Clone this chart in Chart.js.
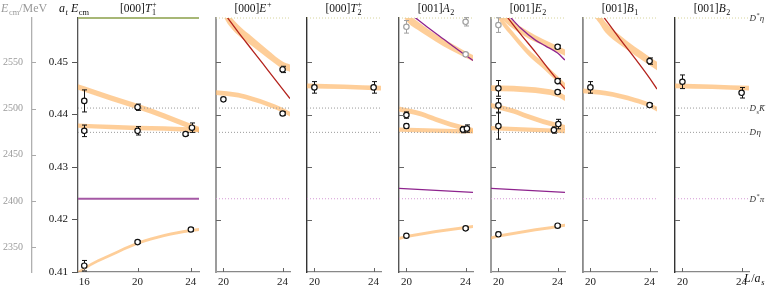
<!DOCTYPE html>
<html>
<head>
<meta charset="utf-8">
<script src="https://cdn.jsdelivr.net/npm/chart.js@4.4.1/dist/chart.umd.min.js"></script>
<style>
html, body { margin: 0; padding: 0; background: #fff; }
#wrap { position: relative; width: 772px; height: 287px; overflow: hidden; }
#wrap canvas { position: absolute; top: 0; }
</style>
</head>
<body>
<div id="wrap"></div>
<script>
// energy axis: a_t E_cm, outer axis in MeV (a_t^-1 = 5667 MeV)
const atInverseMeV = 5667;
const yMin = 0.41;
const yMax = 0.4584;
const yTicks = [0.41, 0.42, 0.43, 0.44, 0.45];
const mevTicks = [2350, 2400, 2450, 2500, 2550];
const xTicksRest = [16, 20, 24];
const xTicksMoving = [20, 24];

// thresholds
const thrDstarEta = 0.4584;
const thrDsKbar = 0.44124;
const thrDEta = 0.43661;
const thrDstarPi = 0.42396;

const SERIF = "'Liberation Serif', 'DejaVu Serif', serif";
const BAND = 'rgba(253,185,110,0.7)';
const RED = '#b3221c';
const PURPLE = '#8e238e';

/////////////////
// [000] T1+   //
/////////////////
const t1Pts = {
    L:   [16, 16, 20, 20, 23.6, 24.08, 16, 20, 24],
    E:   [0.4426, 0.4369, 0.4414, 0.4369, 0.4363, 0.4375, 0.4112, 0.4157, 0.4181],
    err: [0.0021, 0.0011, 0.0006, 0.0008, 0.0003, 0.0009, 0.0010, 0.0002, 0.0003],
    gray: []
};
const t1BandA = { L: [15.53, 16, 18, 20, 22, 24, 24.61], E: [0.44524, 0.44486, 0.44314, 0.44152, 0.43971, 0.43771, 0.43714], w: 0.00052 };
const t1BandB = { L: [15.53, 18, 20, 22, 24.61], E: [0.4379, 0.43762, 0.43743, 0.43733, 0.43705], w: 0.00042 };
const t1BandC = { L: [15.53, 16, 17, 18, 20, 22, 24, 24.61], E: [0.4099, 0.41067, 0.4121, 0.41324, 0.41547, 0.41695, 0.4179, 0.4181], w: 0.00028 };

/////////////////
// [000] E+    //
/////////////////
const ePts = { L: [20, 24, 24], E: [0.4429, 0.4486, 0.4402], err: [0.0003, 0.0006, 0.0003], gray: [] };
const eBandTop = { L: [20, 20.3, 21, 22, 23, 24, 24.5], E: [0.4599, 0.45838, 0.4561, 0.4538, 0.45152, 0.44943, 0.44886], w: [0.0012, 0.0011, 0.001, 0.0009, 0.0008, 0.0007, 0.0007] };
const eBandLow = { L: [19.5, 21, 22, 23, 24, 24.5], E: [0.44419, 0.44371, 0.44295, 0.442, 0.44086, 0.4401], w: 0.00045 };
const eRed = { L: [20.25, 21, 22, 23, 24, 24.5], E: [0.45857, 0.45571, 0.4521, 0.44848, 0.44486, 0.44305] };

/////////////////
// [000] T2+   //
/////////////////
const t2Pts = { L: [20, 24], E: [0.44518, 0.44518], err: [0.0011, 0.0011], gray: [] };
const t2Band = { L: [19.5, 22, 24.5], E: [0.44547, 0.4453, 0.44505], w: 0.00045 };

/////////////////
// [001] A2    //
/////////////////
const a2Pts = {
    L:   [20, 24, 24, 20, 20, 23.82, 24.09, 20, 24],
    E:   [0.45672, 0.45768, 0.45147, 0.4399, 0.43781, 0.43714, 0.43733, 0.41691, 0.41832],
    err: [0.0012, 0.0008, 0.0002, 0.0006, 0.0004, 0.0006, 0.0007, 0.0002, 0.0002],
    gray: [0, 1, 2]
};
const a2BandTop = { L: [19.8, 20.1, 21, 22, 23, 24, 24.5], E: [0.45952, 0.45838, 0.45648, 0.45457, 0.45295, 0.45143, 0.45076], w: [0.0009, 0.0009, 0.0008, 0.0007, 0.0007, 0.0006, 0.0006] };
const a2BandMid = { L: [19.5, 21, 22, 23, 24.5], E: [0.44105, 0.4401, 0.43905, 0.4381, 0.43695], w: 0.00048 };
const a2BandFlat = { L: [19.5, 22, 24.5], E: [0.43714, 0.43695, 0.4368], w: 0.0004 };
const a2BandLow = { L: [19.5, 20, 21, 22, 23, 24, 24.5], E: [0.41638, 0.41676, 0.41724, 0.41771, 0.4181, 0.41848, 0.41867], w: 0.00028 };
const a2Purple = { L: [20.55, 21.5, 22.5, 23.5, 24.5], E: [0.45857, 0.45648, 0.45438, 0.45229, 0.45029] };
const a2PurpleLow = { L: [19.5, 22, 24.5], E: [0.42594, 0.42556, 0.42518] };

/////////////////
// [001] E2    //
/////////////////
const e2Pts = {
    L:   [20, 24, 24, 24, 20, 20, 20, 24.05, 23.75, 20, 24],
    E:   [0.45705, 0.45291, 0.44638, 0.44429, 0.44499, 0.44175, 0.43781, 0.43819, 0.43705, 0.41718, 0.41882],
    err: [0.0014, 0.0003, 0.0005, 0.0003, 0.0015, 0.0013, 0.0025, 0.0009, 0.0006, 0.0004, 0.0002],
    gray: [0]
};
const e2BandA = { L: [20.1, 20.45, 21, 22, 23, 24, 24.5], E: [0.45952, 0.45838, 0.45705, 0.45524, 0.45381, 0.45248, 0.45181], w: [0.0008, 0.0008, 0.0007, 0.0007, 0.0006, 0.0006, 0.0006] };
const e2BandB = { L: [19.9, 20.1, 21, 22, 23, 24, 24.5], E: [0.45952, 0.45838, 0.45514, 0.4519, 0.44943, 0.44676, 0.44543], w: 0.0006 };
const e2BandFlatHi = { L: [19.5, 21, 22, 23, 24, 24.5], E: [0.44505, 0.44495, 0.44476, 0.44448, 0.4439, 0.44314], w: 0.00055 };
const e2BandMid = { L: [19.5, 21, 22, 23, 24.5], E: [0.44171, 0.44067, 0.43962, 0.43867, 0.43752], w: 0.00048 };
const e2BandFlatLo = { L: [19.5, 22, 24.5], E: [0.43743, 0.43714, 0.43686], w: 0.0004 };
const e2BandLow = { L: [19.5, 20, 21, 22, 23, 24, 24.5], E: [0.41648, 0.41686, 0.41733, 0.41781, 0.41823, 0.41867, 0.4189], w: 0.00028 };
const e2Purple = { L: [20.8, 21.5, 22.5, 23.2, 24, 24.5], E: [0.45857, 0.45648, 0.45419, 0.45305, 0.45171, 0.45038] };
const e2Red = { L: [20.6, 21.5, 22.5, 23.5, 24.5], E: [0.45857, 0.45533, 0.4519, 0.44829, 0.44486] };
const e2PurpleLow = { L: [19.5, 22, 24.5], E: [0.42594, 0.42556, 0.42518] };

/////////////////
// [001] B1    //
/////////////////
const b1Pts = { L: [20, 24, 24], E: [0.44518, 0.45019, 0.44181], err: [0.0011, 0.0006, 0.0003], gray: [] };
const b1BandTop = { L: [20.3, 20.6, 21, 22, 23, 24, 24.5], E: [0.45952, 0.45838, 0.45667, 0.45419, 0.4521, 0.45019, 0.44924], w: [0.001, 0.001, 0.001, 0.0009, 0.0008, 0.0008, 0.0008] };
const b1BandLow = { L: [19.5, 21, 22, 23, 24, 24.5], E: [0.44451, 0.4441, 0.44352, 0.44276, 0.44181, 0.44105], w: 0.00045 };
const b1Red = { L: [20.9, 22, 23, 24, 24.5], E: [0.45857, 0.45438, 0.45076, 0.44695, 0.44486] };

/////////////////
// [001] B2    //
/////////////////
const b2Pts = { L: [20, 24], E: [0.44625, 0.44415], err: [0.0013, 0.001], gray: [] };
const b2Band = { L: [19.5, 22, 24.5], E: [0.44547, 0.4453, 0.44505], w: 0.00045 };

const panels = [
    { left: 78, width: 121, xMin: 15.53, xMax: 24.61, xTicks: xTicksRest, first: true,
      title: [['[000]', 'r'], ['T', 'i'], ['1|+', 'bp']], axis: ['#555', 1.3],
      pts: t1Pts, bands: [t1BandA, t1BandB, t1BandC], curves: [] },
    { left: 216, width: 74, xMin: 19.5, xMax: 24.5, xTicks: xTicksMoving,
      title: [['[000]', 'r'], ['E', 'i'], ['+', 'p']], axis: ['#9c9c9c', 2],
      pts: ePts, bands: [eBandTop, eBandLow], curves: [{ d: eRed, c: RED, w: 1.3 }] },
    { left: 307, width: 74, xMin: 19.5, xMax: 24.5, xTicks: xTicksMoving,
      title: [['[000]', 'r'], ['T', 'i'], ['2|+', 'bp']], axis: ['#333', 1.4],
      pts: t2Pts, bands: [t2Band], curves: [] },
    { left: 399, width: 74, xMin: 19.5, xMax: 24.5, xTicks: xTicksMoving,
      title: [['[001]', 'r'], ['A', 'i'], ['2', 'b']], axis: ['#555', 1.4],
      pts: a2Pts, bands: [a2BandTop, a2BandMid, a2BandFlat, a2BandLow],
      curves: [{ d: a2Purple, c: PURPLE, w: 1.3 }, { d: a2PurpleLow, c: PURPLE, w: 1.3 }] },
    { left: 491, width: 74, xMin: 19.5, xMax: 24.5, xTicks: xTicksMoving,
      title: [['[001]', 'r'], ['E', 'i'], ['2', 'b']], axis: ['#9c9c9c', 2],
      pts: e2Pts, bands: [e2BandA, e2BandB, e2BandFlatHi, e2BandMid, e2BandFlatLo, e2BandLow],
      curves: [{ d: e2Purple, c: PURPLE, w: 1.3 }, { d: e2Red, c: RED, w: 1.3 }, { d: e2PurpleLow, c: PURPLE, w: 1.3 }] },
    { left: 583, width: 74, xMin: 19.5, xMax: 24.5, xTicks: xTicksMoving,
      title: [['[001]', 'r'], ['B', 'i'], ['1', 'b']], axis: ['#8a8a8a', 1.8],
      pts: b1Pts, bands: [b1BandTop, b1BandLow], curves: [{ d: b1Red, c: RED, w: 1.3 }] },
    { left: 675, width: 74, xMin: 19.5, xMax: 24.5, xTicks: xTicksMoving, last: true,
      title: [['[001]', 'r'], ['B', 'i'], ['2', 'b']], axis: ['#333', 1.4],
      pts: b2Pts, bands: [b2Band], curves: [] }
];

/////////////////////
// Helper function //
/////////////////////

// draw text made of roman / italic / sub / sup pieces
function richText(ctx, parts, x, y, size, color, align) {
    const small = size * 0.7;
    const font = (it, s) => (it ? 'italic ' : '') + s + 'px ' + SERIF;
    const items = [];
    let w = 0;
    parts.forEach(([t, st]) => {
        if (st === 'bp') {
            const [a, b] = t.split('|');
            ctx.font = font(false, small);
            const wa = ctx.measureText(a).width;
            const wb = ctx.measureText(b).width;
            items.push({ t: a, f: font(false, small), x: w, dy: size * 0.28 });
            items.push({ t: b, f: font(false, small), x: w, dy: -size * 0.42 });
            w += Math.max(wa, wb) + 0.5;
        } else {
            const isSmall = st === 'b' || st === 'bi' || st === 'p';
            const f = font(st === 'i' || st === 'bi', isSmall ? small : size);
            ctx.font = f;
            const dy = (st === 'b' || st === 'bi') ? size * 0.28 : (st === 'p' ? -size * 0.42 : 0);
            items.push({ t, f, x: w, dy });
            w += ctx.measureText(t).width + (st === 'i' ? 0.6 : 0);
        }
    });
    const x0 = align === 'center' ? x - w / 2 : (align === 'right' ? x - w : x);
    ctx.save();
    ctx.fillStyle = color;
    ctx.textAlign = 'left';
    ctx.textBaseline = 'alphabetic';
    items.forEach(it => {
        ctx.font = it.f;
        ctx.fillText(it.t, x0 + it.x, y + it.dy);
    });
    ctx.restore();
}

function thresholdsFor(p) {
    const dot = [1, 2];
    if (p.first) {
        return [
            { v: thrDsKbar, c: '#9a9a9a', w: 1, dash: dot },
            { v: thrDEta, c: '#9a9a9a', w: 1, dash: dot },
            { v: thrDstarEta, c: '#a7b776', w: 2.2, dash: [] },
            { v: thrDstarPi, c: '#a558a5', w: 2, dash: [] }
        ];
    }
    return [
        { v: thrDstarEta, c: '#d6d49c', w: 1, dash: dot },
        { v: thrDsKbar, c: '#9a9a9a', w: 1, dash: dot },
        { v: thrDEta, c: '#9a9a9a', w: 1, dash: dot },
        { v: thrDstarPi, c: '#d59ad5', w: 1, dash: dot }
    ];
}

function buildDatasets(p) {
    const sets = [];
    const pts = p.pts;

    // energy levels with error bars (bars drawn by plugin)
    sets.push({
        data: pts.L.map((L, k) => ({ x: L, y: pts.E[k] })),
        errors: pts.err,
        showLine: false,
        order: 1,
        pointRadius: 2.7,
        pointBorderWidth: 1.2,
        pointBackgroundColor: '#fff',
        pointBorderColor: pts.L.map((_, k) => pts.gray.includes(k) ? '#a0a0a0' : '#111')
    });

    // non-interacting curves
    p.curves.forEach(c => {
        sets.push({
            data: c.d.L.map((L, k) => ({ x: L, y: c.d.E[k] })),
            borderColor: c.c,
            borderWidth: c.w,
            pointRadius: 0,
            cubicInterpolationMode: 'monotone',
            fill: false,
            order: 2
        });
    });

    // thresholds
    thresholdsFor(p).forEach(t => {
        sets.push({
            data: [{ x: p.xMin, y: t.v }, { x: p.xMax, y: t.v }],
            borderColor: t.c,
            borderWidth: t.w,
            borderDash: t.dash,
            pointRadius: 0,
            fill: false,
            clip: 3,
            order: 3
        });
    });

    // spectrum bands, upper edge filled to lower edge
    p.bands.forEach(b => {
        const hw = k => Array.isArray(b.w) ? b.w[k] : b.w;
        sets.push({
            data: b.L.map((L, k) => ({ x: L, y: b.E[k] + hw(k) })),
            fill: '+1',
            backgroundColor: BAND,
            borderColor: 'rgba(0,0,0,0)',
            borderWidth: 0,
            pointRadius: 0,
            cubicInterpolationMode: 'monotone',
            order: 4
        });
        sets.push({
            data: b.L.map((L, k) => ({ x: L, y: b.E[k] - hw(k) })),
            fill: false,
            borderColor: 'rgba(0,0,0,0)',
            borderWidth: 0,
            pointRadius: 0,
            cubicInterpolationMode: 'monotone',
            order: 4
        });
    });
    return sets;
}

function decorPlugin(p) {
    return {
        id: 'decor',
        beforeDatasetDraw(chart, args) {
            const ds = chart.data.datasets[args.index];
            if (!ds.errors) return;
            const ctx = chart.ctx;
            const xs = chart.scales.x;
            const ys = chart.scales.y;
            ctx.save();
            ctx.lineWidth = 1;
            ds.data.forEach((pt, k) => {
                const x = Math.round(xs.getPixelForValue(pt.x)) + 0.5;
                const y1 = ys.getPixelForValue(pt.y - ds.errors[k]);
                const y2 = ys.getPixelForValue(pt.y + ds.errors[k]);
                ctx.strokeStyle = ds.pointBorderColor[k];
                ctx.beginPath();
                ctx.moveTo(x, y1); ctx.lineTo(x, y2);
                ctx.moveTo(x - 2.5, y1); ctx.lineTo(x + 2.5, y1);
                ctx.moveTo(x - 2.5, y2); ctx.lineTo(x + 2.5, y2);
                ctx.stroke();
            });
            ctx.restore();
        },
        afterDraw(chart) {
            const ctx = chart.ctx;
            const a = chart.chartArea;
            const xs = chart.scales.x;
            const ys = chart.scales.y;
            ctx.save();
            // inward tick marks
            ctx.strokeStyle = '#666';
            ctx.lineWidth = 1;
            ctx.beginPath();
            p.xTicks.forEach(v => {
                const x = Math.round(xs.getPixelForValue(v)) + 0.5;
                ctx.moveTo(x, a.bottom);
                ctx.lineTo(x, a.bottom - 4);
            });
            if (!p.first) {
                yTicks.slice(1).forEach(v => {
                    const y = Math.round(ys.getPixelForValue(v)) + 0.5;
                    ctx.moveTo(a.left, y);
                    ctx.lineTo(a.left + 5, y);
                });
            }
            ctx.stroke();

            if (p.first) {
                const ms = chart.scales.yMeV;
                ctx.strokeStyle = '#aaa';
                ctx.beginPath();
                mevTicks.forEach(m => {
                    const y = Math.round(ms.getPixelForValue(m)) + 0.5;
                    ctx.moveTo(ms.right, y);
                    ctx.lineTo(ms.right + 4, y);
                });
                ctx.stroke();
                richText(ctx, [['E', 'i'], ['cm', 'b'], ['/MeV', 'r']], 1, 12, 12, '#999', 'left');
                richText(ctx, [['a', 'i'], ['t', 'bi'], [' ', 'r'], ['E', 'i'], ['cm', 'b']], 59, 12, 12, '#111', 'left');
            }
            ctx.restore();

            // panel title
            richText(ctx, p.title, (a.left + a.right) / 2, 12, 11.5, '#111', 'center');

            if (p.last) {
                const lx = a.right + 0.5;
                richText(ctx, [['D', 'i'], ['*', 'p'], ['η', 'i']], lx, ys.getPixelForValue(thrDstarEta) + 3, 9, '#333', 'left');
                richText(ctx, [['D', 'i'], ['s', 'b'], ['K\u0304', 'i']], lx, ys.getPixelForValue(thrDsKbar) + 3, 9, '#333', 'left');
                richText(ctx, [['D', 'i'], ['η', 'i']], lx, ys.getPixelForValue(thrDEta) + 3, 9, '#333', 'left');
                richText(ctx, [['D', 'i'], ['*', 'p'], ['π', 'i']], lx, ys.getPixelForValue(thrDstarPi) + 3, 9, '#333', 'left');
                richText(ctx, [['L', 'i'], ['/', 'r'], ['a', 'i'], ['s', 'bi']], a.right - 5, a.bottom + 10, 12, '#111', 'left');
            }
        }
    };
}

function buildScales(p) {
    const scales = {
        x: {
            type: 'linear',
            min: p.xMin,
            max: p.xMax,
            afterBuildTicks: s => { s.ticks = p.xTicks.map(v => ({ value: v })); },
            afterFit: s => { s.height = 15; },
            grid: { drawOnChartArea: false, drawTicks: false },
            border: { color: '#888', width: 1.3 },
            ticks: { font: { family: SERIF, size: 11 }, color: '#222', padding: 4, maxRotation: 0, callback: v => String(v) }
        }
    };
    if (p.first) {
        scales.y = {
            position: 'left',
            weight: 0,
            min: yMin,
            max: yMax,
            afterBuildTicks: s => { s.ticks = yTicks.map(v => ({ value: v })); },
            afterFit: s => { s.width = 46; },
            grid: { drawOnChartArea: false, drawTicks: true, tickLength: 6, color: '#555' },
            border: { color: p.axis[0], width: p.axis[1] },
            ticks: { font: { family: SERIF, size: 11 }, color: '#111', padding: 4, callback: v => v.toFixed(2) }
        };
        scales.yMeV = {
            position: 'left',
            weight: 1,
            min: yMin * atInverseMeV,
            max: yMax * atInverseMeV,
            afterBuildTicks: s => { s.ticks = mevTicks.map(v => ({ value: v })); },
            afterFit: s => { s.width = 32; },
            grid: { drawOnChartArea: false, drawTicks: false },
            border: { color: '#b0b0b0', width: 1.3 },
            ticks: { font: { family: SERIF, size: 10 }, color: '#9a9a9a', padding: 9, callback: v => String(v) }
        };
    } else {
        scales.y = {
            position: 'left',
            min: yMin,
            max: yMax,
            afterFit: s => { s.width = 0; },
            grid: { drawOnChartArea: false, drawTicks: false },
            border: { color: p.axis[0], width: p.axis[1] },
            ticks: { display: false }
        };
    }
    return scales;
}

const wrap = document.getElementById('wrap');

panels.forEach(p => {
    const cvLeft = p.first ? 0 : p.left - 12;
    const cvRight = p.last ? 772 : p.left + p.width + 12;
    const canvas = document.createElement('canvas');
    canvas.width = cvRight - cvLeft;
    canvas.height = 287;
    canvas.style.left = cvLeft + 'px';
    canvas.style.width = canvas.width + 'px';
    canvas.style.height = '287px';
    wrap.appendChild(canvas);

    new Chart(canvas, {
        type: 'line',
        data: { datasets: buildDatasets(p) },
        options: {
            responsive: false,
            animation: false,
            devicePixelRatio: 1,
            events: [],
            layout: {
                padding: {
                    left: p.first ? 0 : p.left - cvLeft,
                    right: cvRight - (p.left + p.width),
                    top: 18,
                    bottom: 0
                }
            },
            plugins: {
                legend: { display: false },
                tooltip: { enabled: false },
                title: { display: false }
            },
            scales: buildScales(p)
        },
        plugins: [decorPlugin(p)]
    });
});
</script>
</body>
</html>
